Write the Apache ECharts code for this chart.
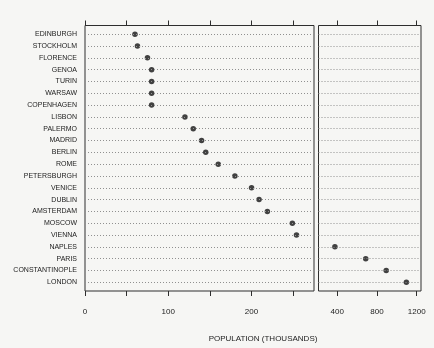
<!DOCTYPE html>
<html>
<head>
<meta charset="utf-8">
<script src="https://cdn.jsdelivr.net/npm/echarts@6/dist/echarts.min.js"></script>
<style>
html,body{margin:0;padding:0;background:#f6f6f4;}
#c{width:434px;height:348px;}
</style>
</head>
<body>
<div id="c"></div>
<script>
const cities = ['EDINBURGH','STOCKHOLM','FLORENCE','GENOA','TURIN','WARSAW','COPENHAGEN','LISBON','PALERMO','MADRID','BERLIN','ROME','PETERSBURGH','VENICE','DUBLIN','AMSTERDAM','MOSCOW','VIENNA','NAPLES','PARIS','CONSTANTINOPLE','LONDON'];
const population = [60, 63, 75, 80, 80, 80, 80, 120, 130, 140, 145, 160, 180, 200, 209, 219, 249, 254, 377, 687, 893, 1096];
const leftTicks = [0, 50, 100, 150, 200, 250];
const leftLabels = [0, 100, 200];
const rightTicks = [400, 800, 1200];
const rightLabels = [400, 800, 1200];
const leftRange = [0, 275];
const rightRange = [212, 1243];
const axisTitle = 'POPULATION (THOUSANDS)';

const FONT = '"Liberation Sans", Arial, sans-serif';
const INK = '#2e2e2e';
const rowIdx = cities.map((c, i) => i);
const leftData = [], rightData = [];
population.forEach((v, i) => {
  if (v <= leftRange[1]) leftData.push([v, i]); else rightData.push([v, i]);
});
const rowLines = rowIdx.map(i => ({ yAxis: i }));

function xAx(grid, pos, range, ticks, labels, showLabels) {
  return {
    type: 'value', gridIndex: grid, position: pos, min: range[0], max: range[1],
    axisLine: { show: false, onZero: false },
    axisTick: { show: true, length: 5, customValues: ticks, lineStyle: { color: INK, width: 1 } },
    axisLabel: { show: showLabels, customValues: labels, margin: 17, color: '#222', fontSize: 8, fontFamily: FONT,
      formatter: v => String(v) },
    splitLine: { show: false }
  };
}
function markRows() {
  return {
    silent: true, symbol: ['none', 'none'], label: { show: false },
    lineStyle: { color: '#909090', width: 1, type: [1, 2] },
    emphasis: { disabled: true },
    data: rowLines
  };
}
const gridCommon = { top: 25.5, height: 265.5, show: true, borderColor: INK, borderWidth: 1, backgroundColor: 'transparent', containLabel: false };

const chart = echarts.init(document.getElementById('c'), null, { renderer: 'canvas' });
chart.setOption({
  animation: false,
  backgroundColor: '#f6f6f4',
  title: {
    text: axisTitle, left: 258, top: 330, textAlign: 'center',
    textStyle: { fontSize: 8, fontWeight: 'normal', color: '#222', fontFamily: FONT }
  },
  grid: [
    Object.assign({ left: 85, width: 229 }, gridCommon),
    Object.assign({ left: 318.5, width: 102.5 }, gridCommon)
  ],
  xAxis: [
    xAx(0, 'bottom', leftRange, leftTicks, leftLabels, true),
    xAx(0, 'top', leftRange, leftTicks, leftLabels, false),
    xAx(1, 'bottom', rightRange, rightTicks, rightLabels, true),
    xAx(1, 'top', rightRange, rightTicks, rightLabels, false)
  ],
  yAxis: [
    {
      type: 'value', gridIndex: 0, inverse: true, min: -0.74, max: cities.length - 1 + 0.74,
      axisLine: { show: false, onZero: false }, axisTick: { show: false }, splitLine: { show: false },
      axisLabel: {
        customValues: rowIdx, margin: 8, color: '#222', fontSize: 7, fontFamily: FONT,
        formatter: v => cities[Math.round(v)]
      }
    },
    {
      type: 'value', gridIndex: 1, inverse: true, min: -0.74, max: cities.length - 1 + 0.74,
      axisLine: { show: false, onZero: false }, axisTick: { show: false }, splitLine: { show: false },
      axisLabel: { show: false }
    }
  ],
  series: [
    {
      type: 'scatter', xAxisIndex: 0, yAxisIndex: 0, data: leftData,
      symbol: 'circle', symbolSize: 5.5, itemStyle: { color: '#141414' },
      markLine: markRows(), z: 3
    },
    {
      type: 'scatter', xAxisIndex: 2, yAxisIndex: 1, data: rightData,
      symbol: 'circle', symbolSize: 5.5, itemStyle: { color: '#141414' },
      markLine: markRows(), z: 3
    }
  ]
});
</script>
</body>
</html>
